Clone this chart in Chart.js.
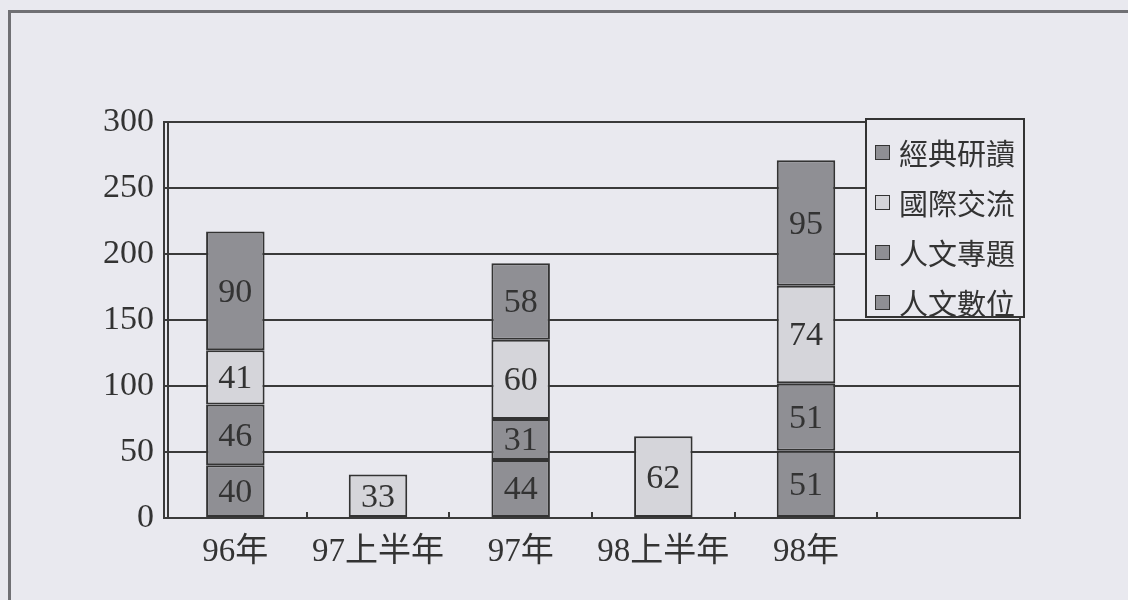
<!DOCTYPE html>
<html>
<head>
<meta charset="utf-8">
<script src="https://cdn.jsdelivr.net/npm/chart.js@4/dist/chart.umd.min.js"></script>
<style>
  html,body{margin:0;padding:0;background:#e9e9ef;}
  #wrap{position:relative;width:1128px;height:600px;overflow:hidden;background:#e9e9ef;}
  #frame{position:absolute;left:8px;top:10px;width:1140px;height:620px;border-left:3px solid #707074;border-top:3px solid #707074;box-sizing:border-box;}
  canvas{position:absolute;left:0;top:0;}
  #legend{position:absolute;left:865px;top:118px;width:160px;height:200px;box-sizing:border-box;border:2px solid #333;background:#e9e9ef;}
  .item{position:absolute;left:8px;height:30px;display:flex;align-items:center;font-family:"Noto Sans CJK TC","Noto Sans CJK SC",sans-serif;font-size:29px;color:#333;}
  .sw{width:13px;height:13px;border:1.5px solid #333;margin-right:9px;}
</style>
</head>
<body>
<div id="wrap">
  <div id="frame"></div>
  <canvas id="c" width="1128" height="600"></canvas>
  <div id="legend"></div>
</div>
<script>
const categories = ['96年', '97上半年', '97年', '98上半年', '98年', ''];
const digital   = [40, null, 44, null, 51, null];   // 人文數位
const topics    = [46, null, 31, null, 51, null];   // 人文專題
const exchange  = [41, 33, 60, 62, 74, null];       // 國際交流
const classics  = [90, null, 58, null, 95, null];   // 經典研讀
const yTicks = [0, 50, 100, 150, 200, 250, 300];

const DARK = '#8f8f94', LIGHT = '#d5d5da';
const series = [
  {label:'人文數位', data:digital,  color:DARK},
  {label:'人文專題', data:topics,   color:DARK},
  {label:'國際交流', data:exchange, color:LIGHT},
  {label:'經典研讀', data:classics, color:DARK}
];

// HTML legend (reverse order like the reference)
const lg = document.getElementById('legend');
series.slice().reverse().forEach((s, i) => {
  const d = document.createElement('div');
  d.className = 'item';
  d.style.top = (17 + i * 50) + 'px';
  d.innerHTML = '<span class="sw" style="background:' + s.color + '"></span><span>' + s.label + '</span>';
  lg.appendChild(d);
});

const NUMFONT = '"Liberation Serif","Noto Sans CJK TC",serif';

const labelPlugin = {
  id: 'segLabels',
  afterDatasetsDraw(chart) {
    const ctx = chart.ctx;
    ctx.save();
    ctx.font = '34px ' + NUMFONT;
    ctx.fillStyle = '#333';
    ctx.textAlign = 'center';
    ctx.textBaseline = 'middle';
    chart.data.datasets.forEach((ds, di) => {
      const meta = chart.getDatasetMeta(di);
      meta.data.forEach((el, i) => {
        const v = ds.data[i];
        if (v === null || v === undefined) return;
        const top = el.y, bot = el.base;
        ctx.fillText(String(v), el.x, (top + bot) / 2 + 2);
      });
    });
    ctx.restore();
  }
};

const framePlugin = {
  id: 'plotFrame',
  afterDraw(chart) {
    const ctx = chart.ctx, a = chart.chartArea, xs = chart.scales.x;
    ctx.save();
    ctx.strokeStyle = '#3a3a3a';
    ctx.lineWidth = 2;
    ctx.beginPath();
    ctx.moveTo(a.right, a.top); ctx.lineTo(a.right, a.bottom);
    ctx.stroke();
    ctx.beginPath();
    ctx.moveTo(a.left + 4, a.top); ctx.lineTo(a.left + 4, a.bottom);
    ctx.stroke();
    const n = chart.data.labels.length;
    for (let i = 1; i <= n; i++) {
      const x = Math.round((xs.getPixelForValue(i - 1) + (i < n ? xs.getPixelForValue(i) : 2 * xs.getPixelForValue(i - 1) - xs.getPixelForValue(i - 2))) / 2);
      ctx.beginPath();
      ctx.moveTo(x, a.bottom); ctx.lineTo(x, a.bottom - 6);
      ctx.stroke();
    }
    ctx.restore();
  }
};

new Chart(document.getElementById('c'), {
  type: 'bar',
  data: {
    labels: categories,
    datasets: series.map(s => ({
      label: s.label,
      data: s.data,
      backgroundColor: s.color,
      borderColor: '#333',
      borderWidth: 2,
      borderSkipped: false,
      categoryPercentage: 1.0,
      barPercentage: 0.41
    }))
  },
  options: {
    responsive: false,
    animation: false,
    events: [],
    layout: { padding: { top: 122, right: 108, bottom: 0, left: 0 } },
    plugins: { legend: { display: false }, tooltip: { enabled: false } },
    scales: {
      x: {
        stacked: true,
        grid: { display: false, drawTicks: false },
        border: { display: true, color: '#3a3a3a', width: 2 },
        ticks: { color: '#333', font: { family: NUMFONT, size: 33 }, padding: 15, maxRotation: 0, autoSkip: false },
        afterFit(s) { s.height = 82; }
      },
      y: {
        stacked: true,
        min: 0, max: 300,
        afterBuildTicks(s) { s.ticks = yTicks.map(v => ({ value: v })); },
        grid: { color: '#3a3a3a', lineWidth: 2, drawTicks: false },
        border: { display: true, color: '#3a3a3a', width: 2 },
        ticks: { color: '#333', font: { family: NUMFONT, size: 34 }, padding: 10 },
        afterFit(s) { s.width = 164; }
      }
    }
  },
  plugins: [labelPlugin, framePlugin]
});
</script>
</body>
</html>
